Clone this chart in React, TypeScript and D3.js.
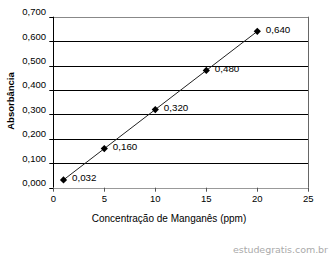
import React from "react";
import * as d3 from "d3";

const concentrations = [1, 5, 10, 15, 20];
const absorbances = [0.032, 0.16, 0.32, 0.48, 0.64];
const pointLabels = ["0,032", "0,160", "0,320", "0,480", "0,640"];
const xTicks = [0, 5, 10, 15, 20, 25];
const yTicks = [0, 0.1, 0.2, 0.3, 0.4, 0.5, 0.6, 0.7];
const yTickLabels = ["0,000", "0,100", "0,200", "0,300", "0,400", "0,500", "0,600", "0,700"];

const W = 329;
const H = 257;
const font = "Liberation Sans, Arial, sans-serif";

export default function App() {
  const x = d3.scaleLinear().domain([0, 25]).range([53.3, 308.3]);
  const y = d3.scaleLinear().domain([0, 0.7]).range([187.7, 16.7]);
  const line = d3
    .line<number>()
    .x((_, i) => x(concentrations[i]))
    .y((d) => y(d));
  const diamond = d3.symbol().type(d3.symbolSquare).size(26)();

  return (
    <svg
      width={W}
      height={H}
      style={{ position: "absolute", left: 0, top: 0, background: "#fff" }}
    >
      {yTicks.map((t, i) => (
        <line
          key={"g" + i}
          x1={x(0)}
          x2={x(25)}
          y1={Math.round(y(t)) + 0.5}
          y2={Math.round(y(t)) + 0.5}
          stroke={i === 0 ? "#999" : i === yTicks.length - 1 ? "#888" : "#000"}
          strokeWidth={1}
        />
      ))}
      <line
        x1={Math.round(x(25)) + 0.5}
        x2={Math.round(x(25)) + 0.5}
        y1={y(0.7)}
        y2={y(0)}
        stroke="#666"
      />
      <line
        x1={Math.round(x(0)) + 0.5}
        x2={Math.round(x(0)) + 0.5}
        y1={y(0.7)}
        y2={y(0)}
        stroke="#000"
      />
      {yTicks.map((t, i) => (
        <g key={"yt" + i}>
          <line
            x1={x(0) - 4}
            x2={x(0)}
            y1={Math.round(y(t)) + 0.5}
            y2={Math.round(y(t)) + 0.5}
            stroke="#000"
          />
          <text
            x={46}
            y={y(t) - 1.5}
            textAnchor="end"
            fontFamily={font}
            fontSize={9.5}
            fill="#000"
          >
            {yTickLabels[i]}
          </text>
        </g>
      ))}
      {xTicks.map((t, i) => (
        <g key={"xt" + i}>
          <line
            x1={Math.round(x(t)) + 0.5}
            x2={Math.round(x(t)) + 0.5}
            y1={y(0)}
            y2={y(0) + 4}
            stroke="#555"
          />
          <text
            x={x(t)}
            y={202}
            textAnchor="middle"
            fontFamily={font}
            fontSize={9.5}
            fill="#000"
          >
            {t}
          </text>
        </g>
      ))}
      <path d={line(absorbances) || ""} fill="none" stroke="#222" strokeWidth={1} />
      {absorbances.map((v, i) => (
        <g key={"p" + i}>
          <path
            d={diamond || ""}
            transform={`translate(${x(concentrations[i])},${y(v)}) rotate(45)`}
            fill="#000"
          />
          <text
            x={x(concentrations[i]) + 8.5}
            y={y(v) + 1.5}
            fontFamily={font}
            fontSize={9.8}
            fill="#000"
          >
            {pointLabels[i]}
          </text>
        </g>
      ))}
      <text
        transform={`translate(13.5, 101) rotate(-90)`}
        textAnchor="middle"
        fontFamily={font}
        fontSize={9.5}
        fontWeight="bold"
        fill="#000"
      >
        Absorbância
      </text>
      <text
        x={169}
        y={222}
        textAnchor="middle"
        fontFamily={font}
        fontSize={10}
        fill="#000"
      >
        Concentração de Manganês (ppm)
      </text>
      <text
        x={328}
        y={252.5}
        textAnchor="end"
        fontFamily="DejaVu Sans, sans-serif"
        fontSize={9.5}
        fill="#aaa"
        textLength={95}
        lengthAdjust="spacing"
      >
        estudegratis.com.br
      </text>
    </svg>
  );
}
